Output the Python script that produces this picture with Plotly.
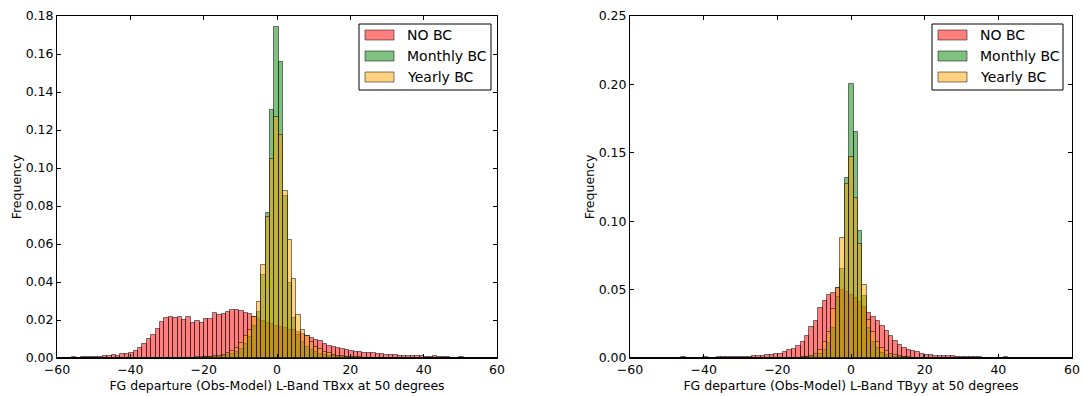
import plotly.graph_objects as go

# ---------------- data (bin centres, width 1.2) ----------------
K = list(range(-50, 51))
centers_xx = [round(-0.1 + 1.2 * k, 2) for k in K]
centers_yy = [round(0.1 + 1.2 * k, 2) for k in K]
BIN_W = 1.2

def expand(start_k, vals):
    out = [0.0] * len(K)
    for i, v in enumerate(vals):
        out[start_k + 50 + i] = v
    return out

# Left panel (TBxx), values from k = start index
nobc_xx_start = -49
nobc_xx = [0.0001, 0.0002, 0.0002, 0.0003, 0.0002, 0.0003, 0.0003, 0.0004, 0.0003,
           0.0005, 0.0008, 0.0013, 0.0014, 0.0012, 0.0020, 0.0021, 0.0028, 0.0035,
           0.0053, 0.0072, 0.0102, 0.0120, 0.0154, 0.0190, 0.0210, 0.0216, 0.0211,
           0.0214, 0.0198, 0.0214, 0.0182, 0.0195, 0.0186, 0.0204, 0.0204, 0.0235,
           0.0225, 0.0233, 0.0244, 0.0253, 0.0253, 0.0247, 0.0239, 0.0233, 0.0218,
           0.0205, 0.0195, 0.0186, 0.0178, 0.0170, 0.0163, 0.0157, 0.0150, 0.0145,
           0.0136, 0.0126, 0.0116, 0.0104, 0.0095, 0.0089, 0.0072, 0.0062, 0.0058,
           0.0053, 0.0046, 0.0040, 0.0039, 0.0033, 0.0030, 0.0028, 0.0026, 0.0025,
           0.0022, 0.0020, 0.0018, 0.0016, 0.0015, 0.0012, 0.0011, 0.0010, 0.0009,
           0.0008, 0.0012, 0.0006, 0.0005, 0.0008, 0.0004, 0.0003, 0.0003, 0.0002,
           0.0002, 0.0003, 0.0001, 0.0001, 0.0001]
monthly_xx_start = -20
monthly_xx = [0.0001, 0.0001, 0.0002, 0.0002, 0.0003, 0.0004, 0.0005, 0.0007, 0.0010,
              0.0015, 0.0022, 0.0033, 0.0050, 0.0075, 0.0110, 0.0170, 0.0244, 0.0438,
              0.0765, 0.1304, 0.1743, 0.1556, 0.0851, 0.0396, 0.0211, 0.0120, 0.0085,
              0.0060, 0.0042, 0.0030, 0.0021, 0.0015, 0.0011, 0.0008, 0.0006, 0.0004,
              0.0003, 0.0002, 0.0002, 0.0001, 0.0001]
yearly_xx_start = -22
yearly_xx = [0.0001, 0.0001, 0.0002, 0.0002, 0.0003, 0.0004, 0.0005, 0.0006, 0.0008,
             0.0012, 0.0018, 0.0025, 0.0037, 0.0055, 0.0080, 0.0116, 0.0150, 0.0216,
             0.0296, 0.0490, 0.0740, 0.1049, 0.1268, 0.1175, 0.0878, 0.0623, 0.0415,
             0.0225, 0.0146, 0.0116, 0.0084, 0.0060, 0.0046, 0.0032, 0.0025, 0.0018,
             0.0013, 0.0010, 0.0007, 0.0005, 0.0004, 0.0003, 0.0002, 0.0002, 0.0001]

# Right panel (TByy)
nobc_yy_start = -40
nobc_yy = [0.0001, 0.0002, 0.0004, 0.0002, 0.0003, 0.0003, 0.0002, 0.0004, 0.0003,
           0.0003, 0.0004, 0.0005, 0.0005, 0.0006, 0.0007, 0.0008, 0.0009, 0.0010,
           0.0012, 0.0013, 0.0017, 0.0020, 0.0022, 0.0027, 0.0031, 0.0046, 0.0060,
           0.0068, 0.0090, 0.0120, 0.0163, 0.0224, 0.0273, 0.0363, 0.0420, 0.0459,
           0.0478, 0.0512, 0.0500, 0.0480, 0.0460, 0.0440, 0.0410, 0.0375, 0.0329,
           0.0298, 0.0268, 0.0237, 0.0200, 0.0159, 0.0125, 0.0095, 0.0073, 0.0058,
           0.0050, 0.0041, 0.0031, 0.0024, 0.0022, 0.0018, 0.0017, 0.0015, 0.0013,
           0.0012, 0.0010, 0.0009, 0.0007, 0.0006, 0.0005, 0.0004, 0.0003, 0.0003,
           0.0002, 0.0001, 0.0002, 0.0004, 0.0002, 0.0001, 0.0001]
monthly_yy_start = -12
monthly_yy = [0.0002, 0.0003, 0.0005, 0.0008, 0.0015, 0.0030, 0.0060, 0.0110, 0.0220,
              0.0445, 0.0654, 0.1318, 0.2006, 0.1654, 0.0930, 0.0456, 0.0220, 0.0120,
              0.0070, 0.0040, 0.0025, 0.0015, 0.0010, 0.0006, 0.0004, 0.0002]
yearly_yy_start = -13
yearly_yy = [0.0002, 0.0003, 0.0005, 0.0010, 0.0017, 0.0028, 0.0055, 0.0120, 0.0190,
             0.0360, 0.0512, 0.0878, 0.1274, 0.1469, 0.1170, 0.0832, 0.0532, 0.0280,
             0.0190, 0.0120, 0.0075, 0.0050, 0.0030, 0.0020, 0.0012, 0.0008, 0.0005,
             0.0003]

series_names = ["NO BC", "Monthly BC", "Yearly BC"]
fill_colors = ["rgba(255,0,0,0.5)", "rgba(0,128,0,0.5)", "rgba(255,165,0,0.5)"]
edge_color = "rgba(0,0,0,0.5)"

x_ticks = [-60, -40, -20, 0, 20, 40, 60]
y_ticks_xx = [0.00, 0.02, 0.04, 0.06, 0.08, 0.10, 0.12, 0.14, 0.16, 0.18]
y_ticks_yy = [0.00, 0.05, 0.10, 0.15, 0.20, 0.25]
xtitle_xx = "FG departure (Obs-Model) L-Band TBxx at 50 degrees"
xtitle_yy = "FG departure (Obs-Model) L-Band TByy at 50 degrees"

# ---------------- figure ----------------
W, H = 1083, 396
ML, MR, MT, MB = 57, 11, 16, 38
PW, PH = W - ML - MR, H - MT - MB

def px_x(p):
    return (p - ML) / PW

def px_y(p):
    return 1 - (p - MT) / PH

fig = go.Figure()

left_series = [expand(nobc_xx_start, nobc_xx), expand(monthly_xx_start, monthly_xx),
               expand(yearly_xx_start, yearly_xx)]
right_series = [expand(nobc_yy_start, nobc_yy), expand(monthly_yy_start, monthly_yy),
                expand(yearly_yy_start, yearly_yy)]

for vals, name, col in zip(left_series, series_names, fill_colors):
    fig.add_trace(go.Bar(x=centers_xx, y=vals, width=BIN_W, name=name,
                         marker=dict(color=col, line=dict(color=edge_color, width=1)),
                         xaxis="x", yaxis="y", showlegend=False))
for vals, name, col in zip(right_series, series_names, fill_colors):
    fig.add_trace(go.Bar(x=centers_yy, y=vals, width=BIN_W, name=name,
                         marker=dict(color=col, line=dict(color=edge_color, width=1)),
                         xaxis="x2", yaxis="y2", showlegend=False))

FONT = "DejaVu Sans, Arial, sans-serif"
TICK_SIZE = 12.5
axis_common = dict(showline=True, linecolor="black", linewidth=1, mirror="ticks",
                   ticks="inside", ticklen=4, tickcolor="black", showgrid=False,
                   zeroline=False, automargin=False,
                   tickfont=dict(family=FONT, size=TICK_SIZE, color="black"))

left_dom = [0, px_x(497)]
right_dom = [px_x(630), 1]

fig.update_layout(
    width=W, height=H, margin=dict(l=ML, r=MR, t=MT, b=MB, autoexpand=False),
    paper_bgcolor="white", plot_bgcolor="white", barmode="overlay", bargap=0,
    font=dict(family=FONT, color="black"),
    xaxis=dict(domain=left_dom, range=[-60, 60], tickvals=x_ticks, anchor="y",
               title=dict(text=xtitle_xx, font=dict(size=TICK_SIZE), standoff=5), **axis_common),
    yaxis=dict(range=[0, 0.18], tickvals=y_ticks_xx, tickformat=".2f", anchor="x",
               title=dict(text="Frequency", font=dict(size=TICK_SIZE), standoff=1), **axis_common),
    xaxis2=dict(domain=right_dom, range=[-60, 60], tickvals=x_ticks, anchor="y2",
                title=dict(text=xtitle_yy, font=dict(size=TICK_SIZE), standoff=5), **axis_common),
    yaxis2=dict(range=[0, 0.25], tickvals=y_ticks_yy, tickformat=".2f", anchor="x2",
                title=dict(text="Frequency", font=dict(size=TICK_SIZE), standoff=1), **axis_common),
)

# manual legends (matplotlib-style boxes)
shapes, annots = [], []
for box_l, box_r, patch_l, text_l in [(359, 491, 365, 405), (932, 1063, 938, 978)]:
    shapes.append(dict(type="rect", xref="paper", yref="paper",
                       x0=px_x(box_l), x1=px_x(box_r), y0=px_y(90), y1=px_y(24),
                       line=dict(color="black", width=1), fillcolor="white", layer="above"))
    for i, (name, col) in enumerate(zip(series_names, fill_colors)):
        cy = 35 + 21 * i
        shapes.append(dict(type="rect", xref="paper", yref="paper",
                           x0=px_x(patch_l), x1=px_x(patch_l + 29),
                           y0=px_y(cy + 5), y1=px_y(cy - 5),
                           line=dict(color=edge_color, width=1), fillcolor=col, layer="above"))
        annots.append(dict(xref="paper", yref="paper", x=px_x(text_l), y=px_y(cy),
                           xanchor="left", yanchor="middle", text=name, showarrow=False,
                           font=dict(family=FONT, size=14, color="black")))
fig.update_layout(shapes=shapes, annotations=annots)

fig.write_html("out.html")
